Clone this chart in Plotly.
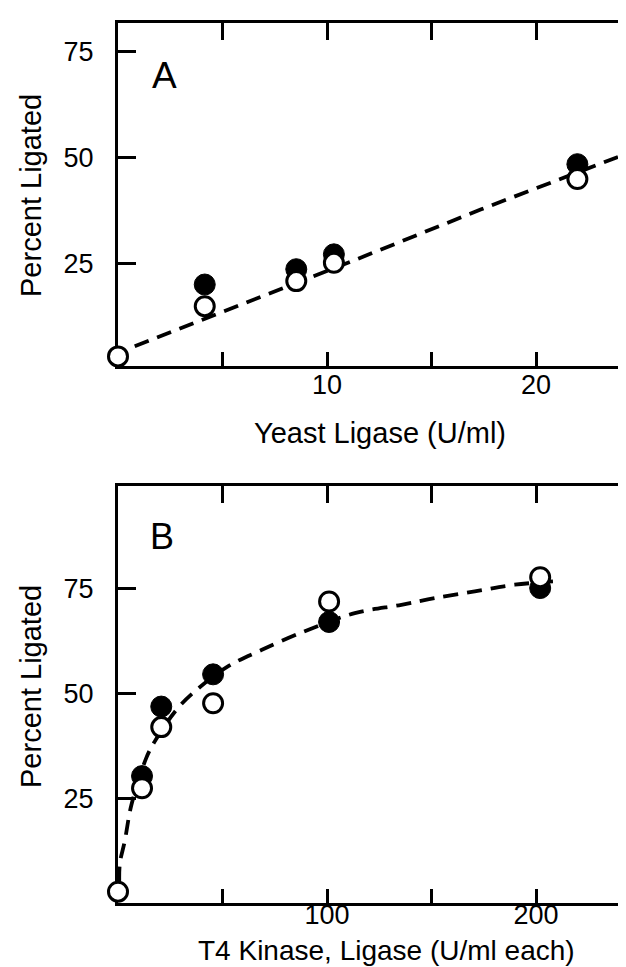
import plotly.graph_objects as go

# ---------------- data ----------------
# Panel A : Yeast ligase
a_filled_x = [4.15, 8.53, 10.33, 21.98]
a_filled_y = [20.1, 23.7, 27.2, 48.4]
a_open_x = [0, 4.15, 8.53, 10.33, 21.98]
a_open_y = [3.2, 15.0, 20.9, 25.2, 44.9]
a_fit_x = [0.8, 4.78, 11.0, 17.38, 24.24]
a_fit_y = [5.6, 13.3, 25.2, 37.8, 50.7]

# Panel B : T4 kinase + ligase
b_filled_x = [11.5, 20.7, 45.5, 101, 202]
b_filled_y = [30.3, 46.9, 54.6, 67.1, 75.2]
b_open_x = [0, 11.5, 20.7, 45.5, 101, 202]
b_open_y = [2.7, 27.4, 42.0, 47.7, 72.0, 77.8]
b_fit_x = [0.6, 0.9, 3.2, 6.4, 13.5, 17.6, 27.9, 36.7, 52.6, 68.6, 90.9,
           113.3, 135.6, 151.5, 170.7, 189.8, 212.1]
b_fit_y = [5.0, 9.5, 14.7, 23.4, 34.6, 38.6, 46.1, 50.5, 56.5, 60.4, 65.2,
           69.2, 71.2, 72.8, 74.4, 76.0, 76.9]

a_xticks = [5, 10, 15, 20]
a_xticktext = ["", "10", "", "20"]
b_xticks = [50, 100, 150, 200]
b_xticktext = ["", "100", "", "200"]
y_ticks = [25, 50, 75]
y_ticktext = ["25", "50", "75"]

FONT = "Liberation Sans, Arial, DejaVu Sans, sans-serif"
W, H = 626, 967

fig = go.Figure()

def add_panel(xa, ya, fx, fy, ox, oy, lx, ly, smooth):
    fig.add_trace(go.Scatter(
        x=lx, y=ly, mode="lines", xaxis=xa, yaxis=ya,
        line=dict(color="black", width=3.8, dash="15px,9px",
                  shape="spline" if smooth else "linear"),
        hoverinfo="skip", showlegend=False, cliponaxis=False))
    fig.add_trace(go.Scatter(
        x=fx, y=fy, mode="markers", xaxis=xa, yaxis=ya,
        marker=dict(symbol="circle", size=21, color="black",
                    line=dict(color="black", width=1)),
        showlegend=False, cliponaxis=False))
    fig.add_trace(go.Scatter(
        x=ox, y=oy, mode="markers", xaxis=xa, yaxis=ya,
        marker=dict(symbol="circle", size=19, color="white",
                    line=dict(color="black", width=3)),
        showlegend=False, cliponaxis=False))

add_panel("x", "y", a_filled_x, a_filled_y, a_open_x, a_open_y, a_fit_x, a_fit_y, False)
add_panel("x2", "y2", b_filled_x, b_filled_y, b_open_x, b_open_y, b_fit_x, b_fit_y, True)

# dummy traces so the overlay (top / right) axes are drawn
for xa, ya in [("x3", "y3"), ("x4", "y4")]:
    fig.add_trace(go.Scatter(x=[None], y=[None], xaxis=xa, yaxis=ya,
                             showlegend=False, hoverinfo="skip"))

xdom = [110 / W, 1.0]
a_ydom = [(H - 358) / H, (H - 15) / H]
b_ydom = [(H - 895) / H, (H - 478.3) / H]
a_xr = [0, (W - 110) / 20.9]
b_xr = [0, (W - 110) / 2.09]
a_yr = [0.94, 81.6]
b_yr = [0.0, 99.5]

tickfont = dict(family=FONT, size=27, color="black")

def bottom_x(dom_anchor, rng, tv, tt, standoff):
    return dict(domain=xdom, range=rng, anchor=dom_anchor, showline=True,
                linecolor="black", linewidth=3, ticks="inside", ticklen=14,
                tickwidth=3, tickcolor="black", tickvals=tv, ticktext=tt,
                tickfont=tickfont, ticklabelstandoff=standoff, showgrid=False,
                zeroline=False, layer="below traces", fixedrange=True)

def top_x(over, anchor, rng, tv):
    return dict(overlaying=over, anchor=anchor, side="top", range=rng,
                showline=True, linecolor="black", linewidth=3, ticks="inside",
                ticklen=17, tickwidth=3, tickcolor="black", tickvals=tv,
                showticklabels=False, showgrid=False, zeroline=False,
                layer="below traces")

def left_y(dom, anchor, rng):
    return dict(domain=dom, range=rng, anchor=anchor, showline=True,
                linecolor="black", linewidth=3, ticks="inside", ticklen=18,
                tickwidth=3, tickcolor="black", tickvals=y_ticks,
                ticktext=y_ticktext, tickfont=tickfont, ticklabelstandoff=16,
                showgrid=False, zeroline=False, layer="below traces")

def right_y(over, anchor, rng):
    return dict(overlaying=over, anchor=anchor, side="right", range=rng,
                showline=False, ticks="inside", ticklen=8, tickwidth=3,
                tickcolor="black", tickvals=y_ticks, showticklabels=False,
                showgrid=False, zeroline=False)

fig.update_layout(
    width=W, height=H,
    margin=dict(l=0, r=0, t=0, b=0, pad=0),
    paper_bgcolor="white", plot_bgcolor="white",
    font=dict(family=FONT, color="black"),
    xaxis=bottom_x("y", a_xr, a_xticks, a_xticktext, -7),
    yaxis=left_y(a_ydom, "x", a_yr),
    xaxis3=top_x("x", "y", a_xr, a_xticks),
    yaxis3=right_y("y", "x", a_yr),
    xaxis2=bottom_x("y2", b_xr, b_xticks, b_xticktext, -14),
    yaxis2=left_y(b_ydom, "x2", b_yr),
    xaxis4=top_x("x2", "y2", b_xr, b_xticks),
    yaxis4=right_y("y2", "x2", b_yr),
    showlegend=False,
)

def ann(text, px, py, size, angle=0):
    fig.add_annotation(text=text, x=px / W, y=1 - py / H, xref="paper",
                       yref="paper", xanchor="center", yanchor="middle",
                       showarrow=False, textangle=angle,
                       font=dict(family=FONT, size=size, color="black"))

ann("A", 156, 68, 37)
ann("B", 154, 528, 36)
ann("Percent Ligated", 23, 188, 29, -90)
ann("Percent Ligated", 23, 679, 29, -90)
ann("Yeast Ligase (U/ml)", 372, 425, 29)
ann("T4 Kinase, Ligase (U/ml each)", 378, 942, 28)

fig.write_html("out.html")
